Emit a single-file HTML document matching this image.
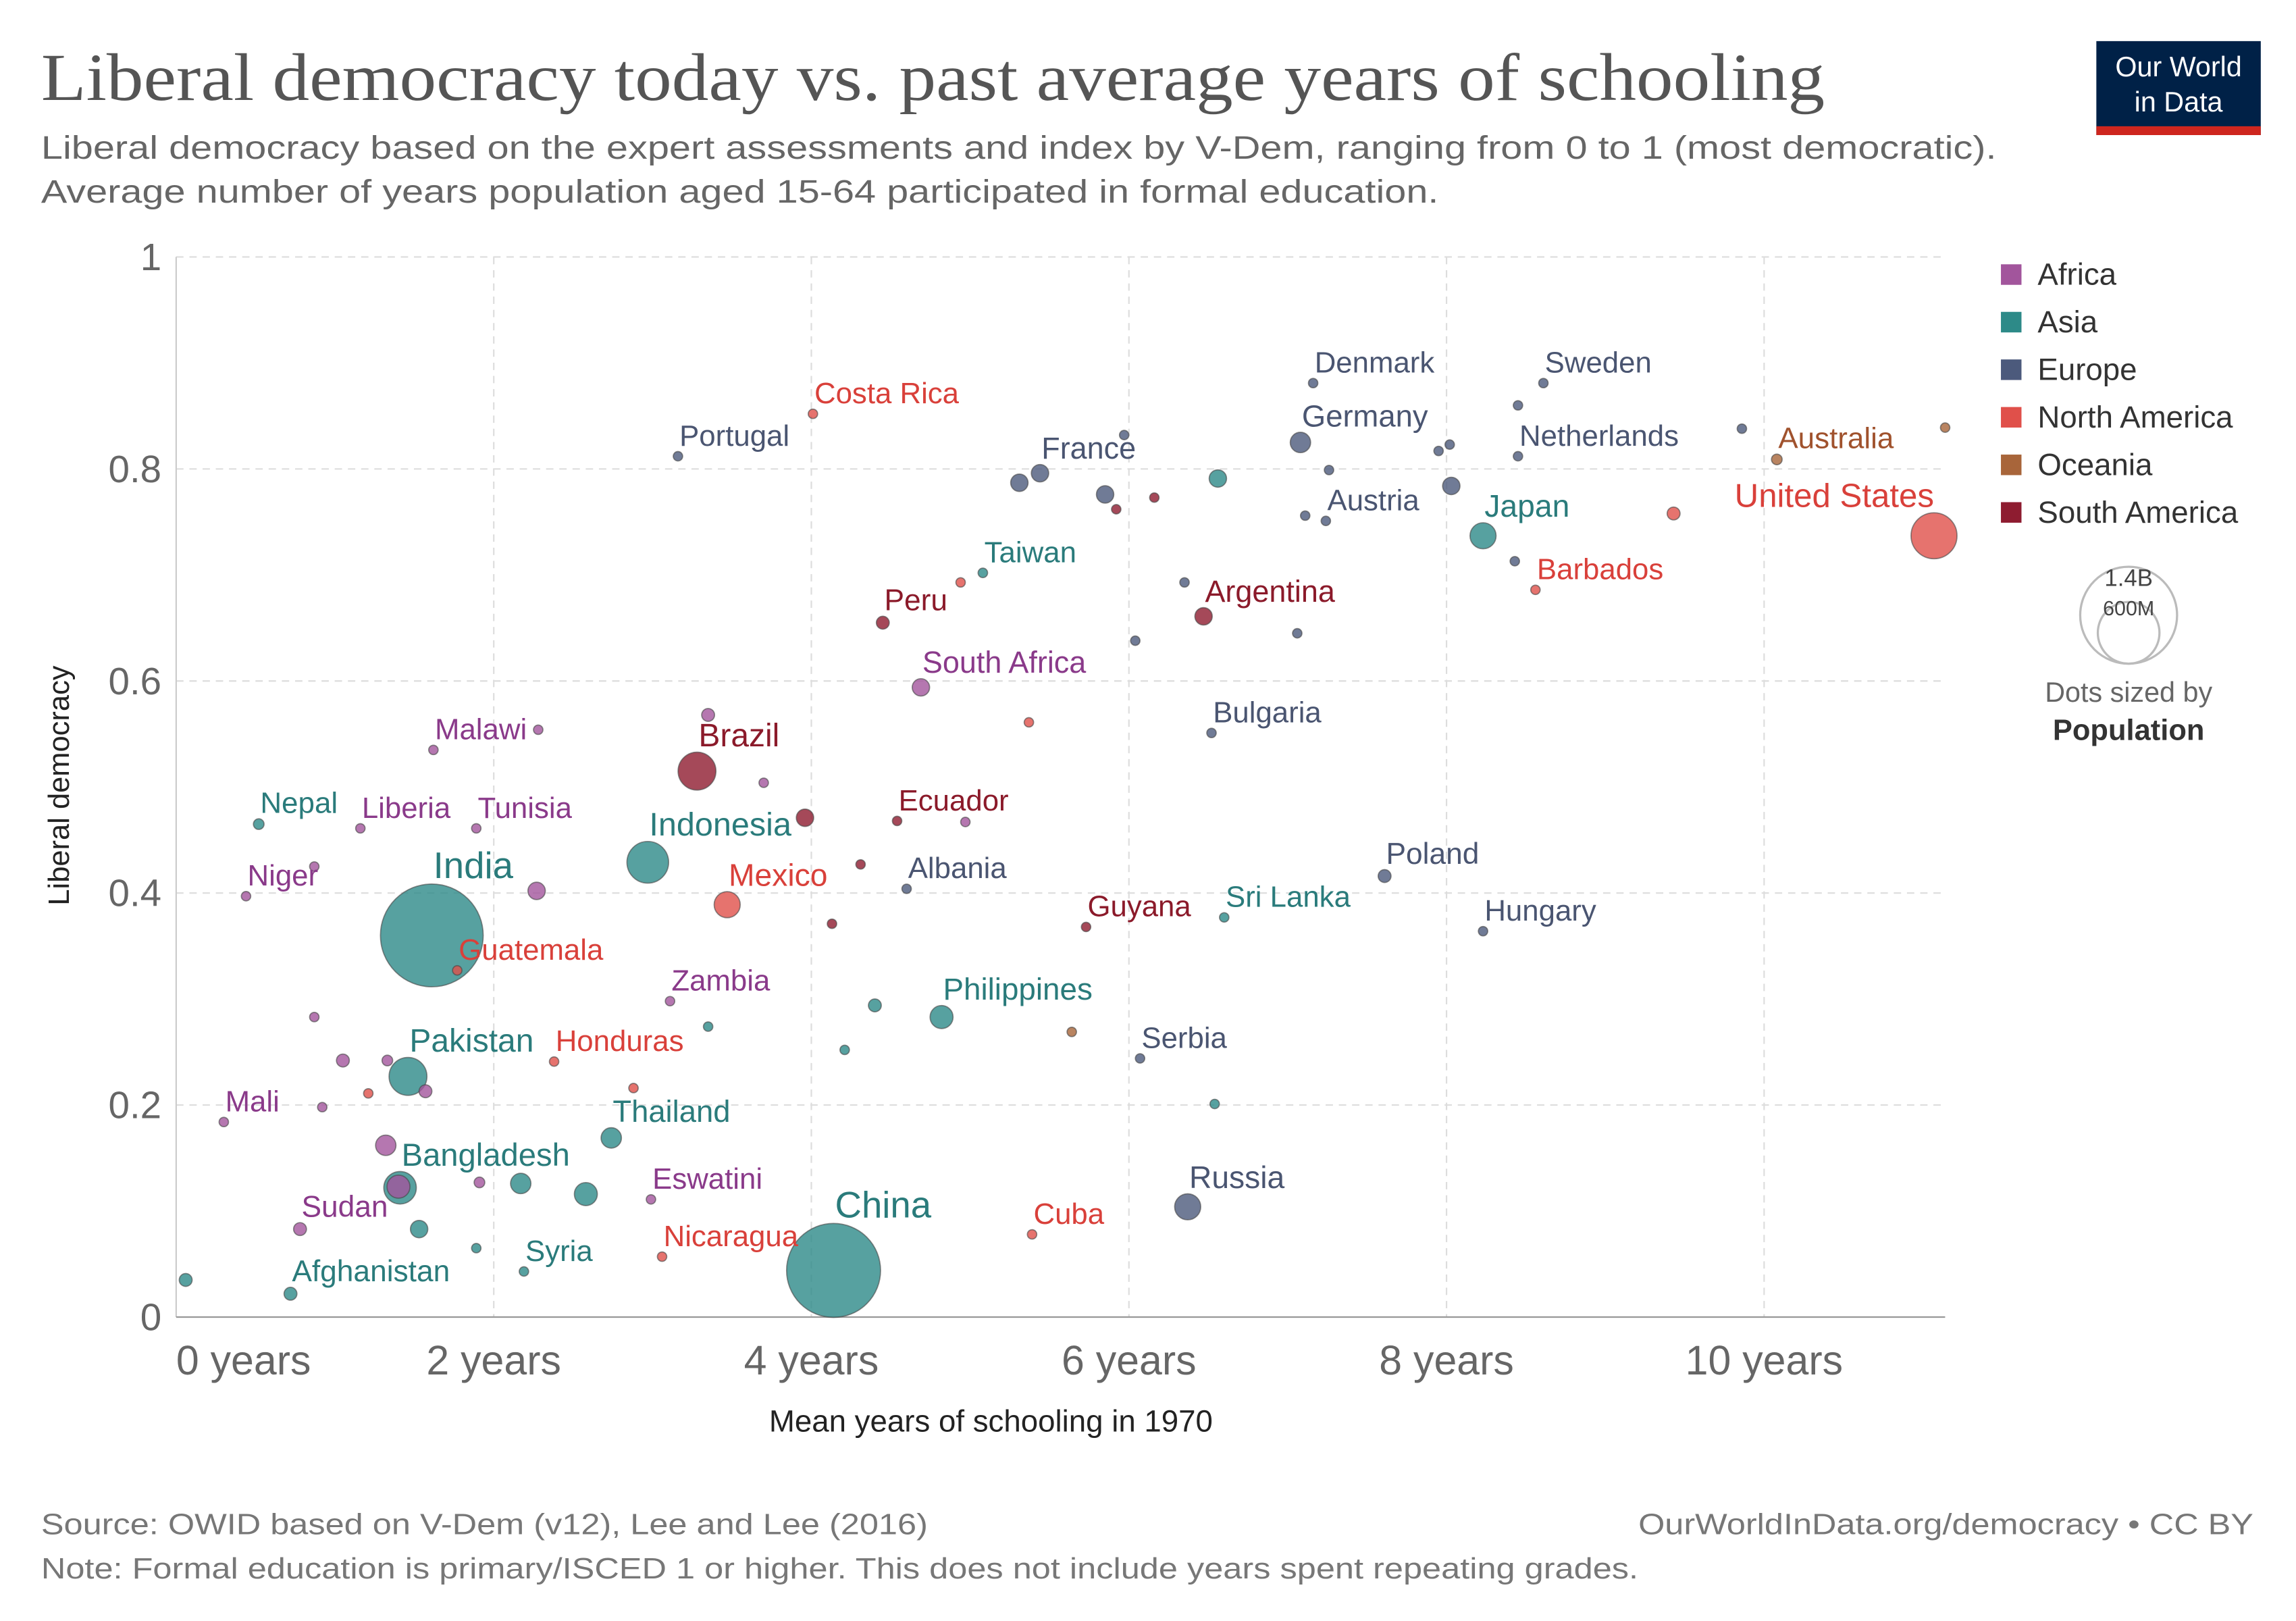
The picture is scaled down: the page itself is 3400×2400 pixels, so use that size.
<!DOCTYPE html>
<html><head><meta charset="utf-8"><style>
html,body{margin:0;padding:0;background:#fff}
svg{display:block}
text{font-family:"Liberation Sans",sans-serif}
</style></head><body>
<svg id="chart" width="3400" height="2400" viewBox="0 0 1564 1104" preserveAspectRatio="none" xmlns="http://www.w3.org/2000/svg">
<rect x="0" y="0" width="1564" height="1104" fill="#fff"/>
<text x="28" y="68" style="font-family:'Liberation Serif',serif" font-size="46" fill="#555" textLength="1215" lengthAdjust="spacingAndGlyphs">Liberal democracy today vs. past average years of schooling</text>
<text x="28" y="108" font-size="22" fill="#666" textLength="1332" lengthAdjust="spacingAndGlyphs">Liberal democracy based on the expert assessments and index by V-Dem, ranging from 0 to 1 (most democratic).</text>
<text x="28" y="138" font-size="22" fill="#666" textLength="952" lengthAdjust="spacingAndGlyphs">Average number of years population aged 15-64 participated in formal education.</text>
<g>
<rect x="1428" y="28" width="112" height="64" fill="#002147"/>
<rect x="1428" y="86" width="112" height="6" fill="#ce261e"/>
<text x="1484" y="52" font-size="19" fill="#fff" text-anchor="middle">Our World</text>
<text x="1484" y="76" font-size="19" fill="#fff" text-anchor="middle">in Data</text>
</g>
<g id="grid"></g>
<g id="axes"></g>
<g id="points"></g>
<g id="labels"></g>
<text transform="translate(47,535) rotate(-90)" font-size="20" fill="#222" text-anchor="middle">Liberal democracy</text>
<text x="675" y="975" font-size="21" fill="#222" text-anchor="middle">Mean years of schooling in 1970</text>
<g id="legend"></g>
<g>
<circle cx="1450" cy="419" r="33" fill="none" stroke="#bbb" stroke-width="1.5"/>
<circle cx="1450" cy="431" r="21" fill="none" stroke="#bbb" stroke-width="1.5"/>
<text x="1450" y="399" font-size="16" fill="#444" text-anchor="middle">1.4B</text>
<text x="1450" y="419" font-size="14" fill="#444" text-anchor="middle">600M</text>
<text x="1450" y="478" font-size="19" fill="#666" text-anchor="middle">Dots sized by</text>
<text x="1450" y="504" font-size="20" font-weight="bold" fill="#333" text-anchor="middle">Population</text>
</g>
<text x="28" y="1045" font-size="20" fill="#777" textLength="604" lengthAdjust="spacingAndGlyphs">Source: OWID based on V-Dem (v12), Lee and Lee (2016)</text>
<text x="1116" y="1045" font-size="20" fill="#777" textLength="419" lengthAdjust="spacingAndGlyphs">OurWorldInData.org/democracy • CC BY</text>
<text x="28" y="1075" font-size="20" fill="#777" textLength="1088" lengthAdjust="spacingAndGlyphs">Note: Formal education is primary/ISCED 1 or higher. This does not include years spent repeating grades.</text>
</svg>
<script>
const NS="http://www.w3.org/2000/svg";
const xTicks=[0,2,4,6,8,10];
const xTickLabels=["0 years","2 years","4 years","6 years","8 years","10 years"];
const yTicks=[0,0.2,0.4,0.6,0.8,1];
const yTickLabels=["0","0.2","0.4","0.6","0.8","1"];
const regions=["Africa","Asia","Europe","North America","Oceania","South America"];
const regionFill=["#a2559c","#2d8a88","#4c5a7c","#e0504a","#a8653a","#8e1c30"];
const regionText=["#8a3a8a","#2a7b7b","#4a5571","#d9403a","#a0522d","#8b1a2a"];
// [schooling, democracy, population(M), regionIndex, label]
const countries=[
[1.62,0.535,9,0,"Malawi"],[2.28,0.554,9,0,""],[1.16,0.461,9,0,"Liberia"],[1.89,0.461,9,0,"Tunisia"],
[0.87,0.425,9,0,""],[0.44,0.397,11,0,"Niger"],[2.27,0.402,40,0,""],[3.35,0.568,22,0,""],
[3.70,0.504,9,0,""],[4.69,0.594,40,0,"South Africa"],[4.97,0.467,9,0,""],[3.11,0.298,9,0,"Zambia"],
[0.87,0.283,9,0,""],[1.05,0.242,22,0,""],[1.33,0.242,15,0,""],[1.57,0.213,22,0,""],
[0.92,0.198,9,0,""],[0.30,0.184,9,0,"Mali"],[1.32,0.162,55,0,""],[1.40,0.123,70,0,""],
[0.78,0.083,22,0,"Sudan"],[1.91,0.127,15,0,""],[2.99,0.111,9,0,"Eswatini"],
[0.52,0.465,15,1,"Nepal"],[1.61,0.360,1400,1,"India"],[2.97,0.429,230,1,"Indonesia"],[5.08,0.702,12,1,"Taiwan"],
[6.56,0.791,40,1,""],[8.23,0.737,90,1,"Japan"],[6.60,0.377,9,1,"Sri Lanka"],[4.82,0.283,70,1,"Philippines"],
[4.40,0.294,22,1,""],[3.35,0.274,9,1,""],[4.21,0.252,9,1,""],[1.46,0.227,190,1,"Pakistan"],
[2.74,0.169,55,1,"Thailand"],[1.41,0.122,140,1,"Bangladesh"],[2.17,0.126,55,1,""],[2.58,0.116,70,1,""],
[1.53,0.083,40,1,""],[1.89,0.065,9,1,""],[2.19,0.043,9,1,"Syria"],[4.14,0.044,1170,1,"China"],
[0.72,0.022,22,1,"Afghanistan"],[0.06,0.035,22,1,""],[6.54,0.201,9,1,""],
[3.16,0.812,9,2,"Portugal"],[5.44,0.796,40,2,"France"],[5.31,0.787,40,2,""],[5.85,0.776,40,2,""],
[5.97,0.832,9,2,""],[7.16,0.881,9,2,"Denmark"],[7.08,0.825,55,2,"Germany"],[7.26,0.799,9,2,""],
[8.61,0.881,9,2,"Sweden"],[8.45,0.860,9,2,""],[7.95,0.817,9,2,""],[8.02,0.823,9,2,""],
[8.45,0.812,9,2,"Netherlands"],[8.03,0.784,40,2,""],[9.86,0.838,9,2,""],[7.24,0.751,9,2,"Austria"],
[7.11,0.756,9,2,""],[8.43,0.713,9,2,""],[6.35,0.693,9,2,""],[6.04,0.638,9,2,""],
[7.06,0.645,9,2,""],[6.52,0.551,9,2,"Bulgaria"],[4.60,0.404,9,2,"Albania"],[7.61,0.416,22,2,"Poland"],
[8.23,0.364,9,2,"Hungary"],[6.07,0.244,9,2,"Serbia"],[6.37,0.104,90,2,"Russia"],
[4.01,0.852,9,3,"Costa Rica"],[4.94,0.693,9,3,""],[5.37,0.561,9,3,""],[11.07,0.737,280,3,"United States"],
[9.43,0.758,22,3,""],[8.56,0.686,9,3,"Barbados"],[3.47,0.389,90,3,"Mexico"],[1.77,0.327,9,3,"Guatemala"],
[2.38,0.241,9,3,"Honduras"],[2.88,0.216,9,3,""],[1.21,0.211,9,3,""],[3.06,0.057,9,3,"Nicaragua"],[5.39,0.078,9,3,"Cuba"],
[10.08,0.809,15,4,"Australia"],[11.14,0.839,9,4,""],[5.64,0.269,9,4,""],
[4.45,0.655,22,5,"Peru"],[6.47,0.661,40,5,"Argentina"],[5.92,0.762,9,5,""],[6.16,0.773,9,5,""],
[3.28,0.515,190,5,"Brazil"],[3.96,0.471,40,5,""],[4.54,0.468,9,5,"Ecuador"],[4.31,0.427,9,5,""],
[4.13,0.371,9,5,""],[5.73,0.368,9,5,"Guyana"]
];
const X0=120,X1=1325,Y0=897,Y1=175,XMAX=11.14;
const sx=v=>X0+v/XMAX*(X1-X0);
const sy=v=>Y0-v*(Y0-Y1);
const sr=p=>Math.max(3.2,35*Math.sqrt(p/1400));
function mk(tag,attrs,parent,txt){const e=document.createElementNS(NS,tag);for(const k in attrs)e.setAttribute(k,attrs[k]);if(txt!==undefined)e.textContent=txt;parent.appendChild(e);return e;}
const grid=document.getElementById('grid'),axes=document.getElementById('axes');
yTicks.forEach((t,i)=>{
  if(t>0){const l=mk('line',{x1:X0,x2:X1,y1:sy(t),y2:sy(t),stroke:'#ddd','stroke-dasharray':'5,4'},grid);
  
  }
  const tx=mk('text',{x:110,y:sy(t)+9,'font-size':26,fill:'#666','text-anchor':'end'},axes,yTickLabels[i]);
  
  
});
xTicks.forEach((t,i)=>{
  if(t>0){const l=mk('line',{x1:sx(t),x2:sx(t),y1:Y1,y2:Y0,stroke:'#ddd','stroke-dasharray':'5,4'},grid);
  
  }
  const tx=mk('text',{x:t===0?X0:sx(t),y:936,'font-size':28,fill:'#666','text-anchor':t===0?'start':'middle'},axes,xTickLabels[i]);
  
  
});
const yl=mk('line',{x1:X0,x2:X0,y1:Y1,y2:Y0,stroke:'#ccc'},axes);


const xl=mk('line',{x1:X0,x2:X1,y1:Y0,y2:Y0,stroke:'#999'},axes);


const pts=document.getElementById('points'),lbs=document.getElementById('labels');
const order=countries.map((c,i)=>i).sort((a,b)=>countries[b][2]-countries[a][2]);
order.forEach(i=>{
  const c=countries[i];const r=sr(c[2]);
  const ci=mk('circle',{cx:sx(c[0]),cy:sy(c[1]),r:r,fill:regionFill[c[3]],'fill-opacity':0.8,stroke:'#444','stroke-opacity':0.6,'stroke-width':0.8},pts);
  
  
  if(c[4]){
    const fs=19.5+Math.min(r,28)*0.2;
    const t=mk('text',{x:sx(c[0])+1,y:sy(c[1])-r-4,'font-size':fs,fill:regionText[c[3]]},lbs,c[4]);
    
    
    if(sx(c[0])+t.getComputedTextLength()>X1+5){t.setAttribute('text-anchor','end');t.setAttribute('x',sx(c[0]));}
  }
});
const lg=document.getElementById('legend');
regions.forEach((r,i)=>{
  const y=187+i*32.4;
  const g=mk('g',{},lg);
  
  
  mk('rect',{x:1363,y:y-7,width:14,height:14,fill:regionFill[i]},g);
  mk('text',{x:1388,y:y+7,'font-size':21,fill:'#333'},g,r);
});
</script>
</body></html>
